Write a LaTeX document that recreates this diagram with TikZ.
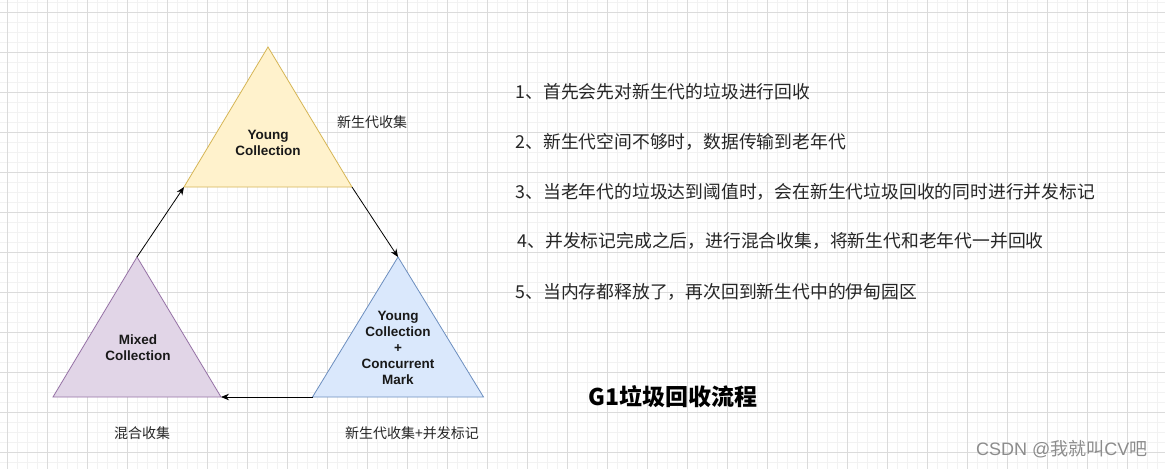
\documentclass[tikz,border=0pt]{standalone}
\usepackage{fontspec}
\setmainfont{Liberation Sans}
\newfontfamily\cjk{Noto Sans CJK SC}
\usetikzlibrary{shapes.geometric,arrows.meta}

\definecolor{youngfill}{HTML}{FFF2CC}
\definecolor{youngline}{HTML}{D6B656}
\definecolor{mixedfill}{HTML}{E1D5E7}
\definecolor{mixedline}{HTML}{9673A6}
\definecolor{markfill}{HTML}{DAE8FC}
\definecolor{markline}{HTML}{6C8EBF}

\tikzset{
  gcstage/.style={isosceles triangle, isosceles triangle stretches, shape border rotate=90,
    minimum width=168pt, minimum height=140pt, inner sep=0pt, outer sep=0pt,
    line width=0.8pt},
  stagelabel/.style={align=center, font=\fontsize{13.5}{16}\selectfont\bfseries, text=black!90},
  flow/.style={draw=black, line width=0.8pt, -{Stealth[length=8pt,width=6.5pt]}},
  note/.style={font=\cjk\fontsize{14}{16}\selectfont, text=black!85},
  stepline/.style={anchor=west, font=\cjk\fontsize{17.8}{20}\selectfont, text=black!85},
  gridminor/.style={draw=black!5, line width=0.6pt},
  gridmajor/.style={draw=black!14, line width=0.6pt}
}

\begin{document}
\begin{tikzpicture}[x=1pt,y=-1pt]
\useasboundingbox (0,0) rectangle (1165,469);
\fill[white] (0,0) rectangle (1165,469);

% background grid
\foreach \x in {-3,7,...,1165} \draw[gridminor] (\x,0) -- (\x,469);
\foreach \y in {2,12,...,469} \draw[gridminor] (0,\y) -- (1165,\y);
\foreach \x in {7,47,...,1165} \draw[gridmajor] (\x,0) -- (\x,469);
\foreach \y in {12,52,...,469} \draw[gridmajor] (0,\y) -- (1165,\y);

% the three stages
\node[gcstage, fill=youngfill, draw=youngline, anchor=apex] (young) at (268,47) {};
\node[gcstage, fill=markfill, draw=markline, anchor=apex, minimum width=171pt] (mark) at (398,257) {};
\node[gcstage, fill=mixedfill, draw=mixedline, anchor=apex] (mixed) at (137,257) {};

\node[stagelabel] (younglabel) at (268,143) {Young\\Collection};
\node[stagelabel] (marklabel) at (398,348) {Young\\Collection\\+\\Concurrent\\Mark};
\node[stagelabel] (mixedlabel) at (138,348) {Mixed\\Collection};

% cycle
\draw[flow] (young.right corner) -- (mark.apex);
\draw[flow] (mark.left corner) -- (mixed.right corner);
\draw[flow] (mixed.apex) -- (young.left corner);

% labels
\node[note] (youngnote) at (372,122) {新生代收集};
\node[note] (mixednote) at (142,433) {混合收集};
\node[note] (marknote) at (412,433) {新生代收集+并发标记};

% steps
\node[stepline] (s1) at (512,92) {1、首先会先对新生代的垃圾进行回收};
\node[stepline] (s2) at (512,142) {2、新生代空间不够时，数据传输到老年代};
\node[stepline] (s3) at (512,192) {3、当老年代的垃圾达到阈值时，会在新生代垃圾回收的同时进行并发标记};
\node[stepline] (s4) at (514,241) {4、并发标记完成之后，进行混合收集，将新生代和老年代一并回收};
\node[stepline] (s5) at (512,292) {5、当内存都释放了，再次回到新生代中的伊甸园区};

\node[font=\cjk\fontsize{23}{25}\selectfont\bfseries] (title) at (673,397) {G1垃圾回收流程};
\node[anchor=east, text=black!45, font=\fontsize{18}{20}\selectfont] (mark-wm) at (1151,449) {CSDN @{\cjk 我就叫}CV{\cjk 吧}};
\end{tikzpicture}
\end{document}
